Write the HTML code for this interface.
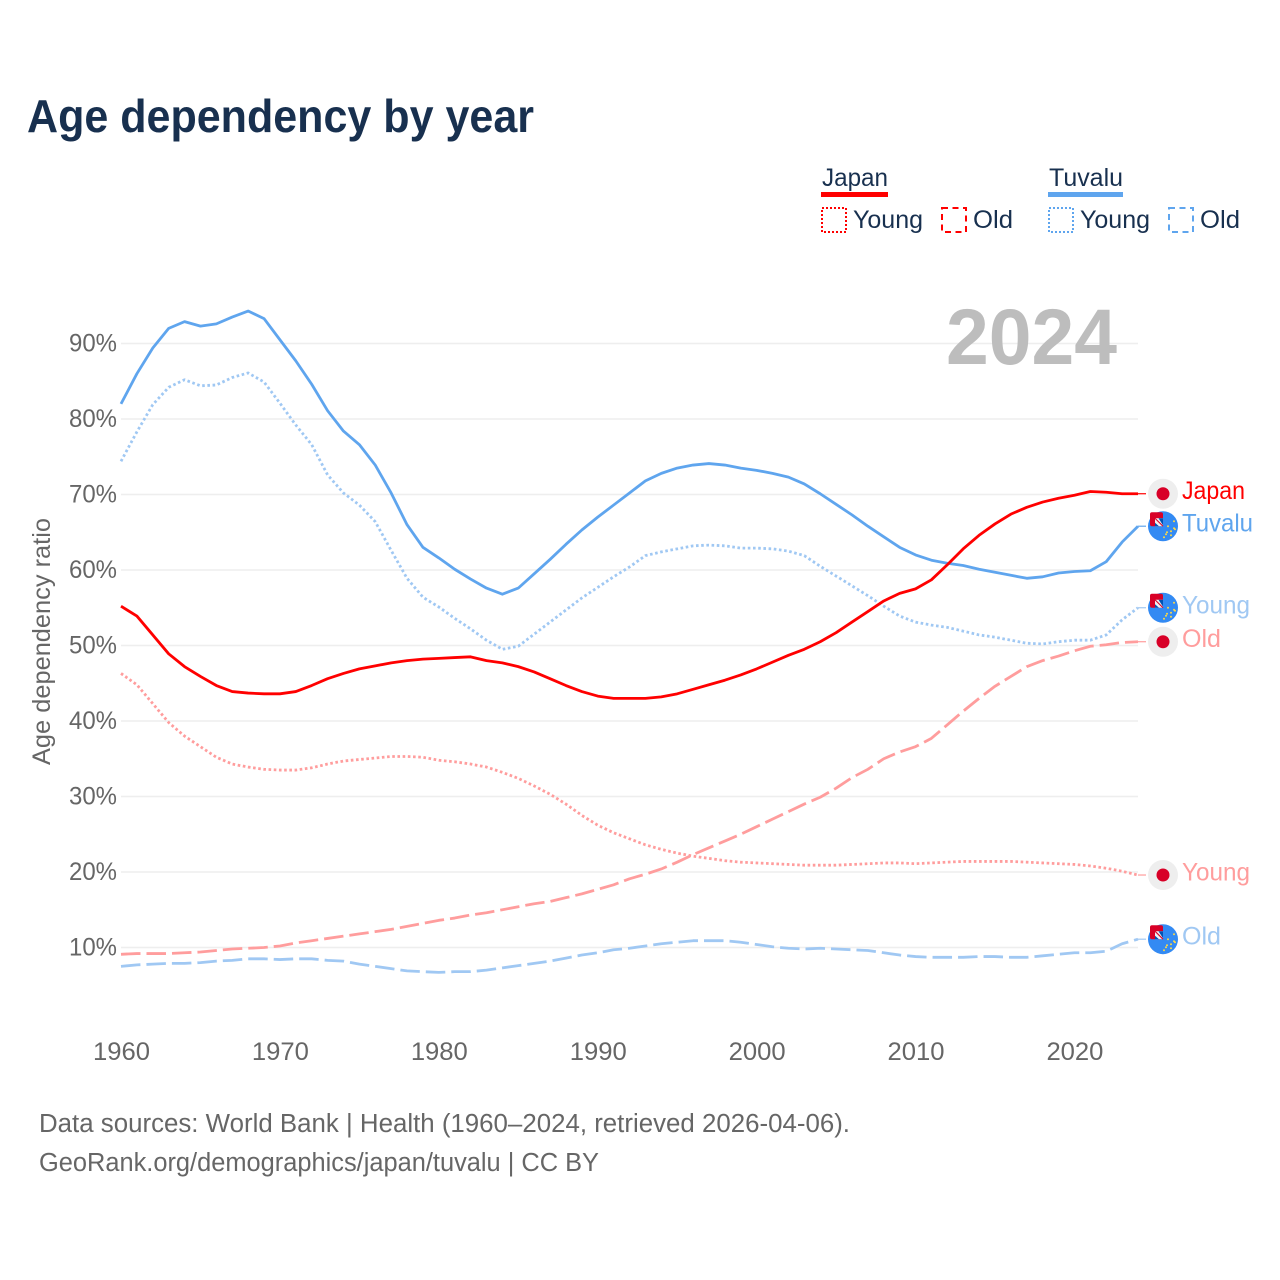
<!DOCTYPE html>
<html lang="en">
<head>
<meta charset="utf-8">
<title>Age dependency by year</title>
<style>
  html, body { margin: 0; padding: 0; background: #fff; }
  svg { display: block; font-family: "Liberation Sans", sans-serif; }
</style>
</head>
<body>
<svg id="chart" xmlns="http://www.w3.org/2000/svg" width="1280" height="1280" viewBox="0 0 1280 1280">
  <defs>
    <clipPath id="flag-clip"><circle cx="0" cy="0" r="15"></circle></clipPath>
    <g id="tuvalu-flag">
      <circle cx="0" cy="0" r="15" fill="#338af3"></circle>
      <rect x="-13" y="-14" width="13" height="14" rx="2" fill="#d80027"></rect>
      <rect x="-8" y="-8" width="8" height="8" fill="#f0f0f0"></rect>
      <path d="M-4.5 -8 L0 -8 L0 -1 Z M-8 -3.5 L-4 0 L-8 0 Z" fill="#0052b4"></path>
      <path d="M-8 -8 L0 0" stroke="#d80027" stroke-width="1.1" fill="none"></path>
      <g fill="#ffda44">
        <circle cx="11" cy="-5" r="1"></circle><circle cx="5" cy="0" r="1"></circle>
        <circle cx="11" cy="2" r="1"></circle><circle cx="8" cy="5" r="1"></circle>
        <circle cx="4" cy="6" r="1"></circle><circle cx="12" cy="3" r="1"></circle>
        <circle cx="1" cy="11" r="1"></circle><circle cx="3" cy="8" r="1"></circle>
        <circle cx="8" cy="9" r="1"></circle>
      </g>
    </g>
    <g id="japan-flag">
      <circle cx="0" cy="0" r="15" fill="#eeeeee"></circle>
      <circle cx="0" cy="0" r="6.5" fill="#d80027"></circle>
    </g>
  </defs>

  <rect x="0" y="0" width="1280" height="1280" fill="#ffffff"></rect>

  <text x="27" y="132" font-size="46" font-weight="700" fill="#18304f" textLength="507" lengthAdjust="spacingAndGlyphs">Age dependency by year</text>

  <g font-size="25" fill="#18304f">
    <text x="822" y="186" textLength="66" lengthAdjust="spacingAndGlyphs">Japan</text>
    <rect x="821" y="192" width="67" height="5" fill="#ff0000"></rect>
    <rect x="822" y="208" width="24" height="24" fill="none" stroke="#ff0000" stroke-width="2" stroke-dasharray="2 2"></rect>
    <text x="853" y="228" textLength="70" lengthAdjust="spacingAndGlyphs">Young</text>
    <rect x="942" y="208" width="24" height="24" fill="none" stroke="#ff0000" stroke-width="2" stroke-dasharray="6 4.5"></rect>
    <text x="973" y="228" textLength="40" lengthAdjust="spacingAndGlyphs">Old</text>

    <text x="1049" y="186" textLength="74" lengthAdjust="spacingAndGlyphs">Tuvalu</text>
    <rect x="1048" y="192" width="75" height="5" fill="#5fa5ee"></rect>
    <rect x="1049" y="208" width="24" height="24" fill="none" stroke="#5fa5ee" stroke-width="2" stroke-dasharray="2 2"></rect>
    <text x="1080" y="228" textLength="70" lengthAdjust="spacingAndGlyphs">Young</text>
    <rect x="1169" y="208" width="24" height="24" fill="none" stroke="#5fa5ee" stroke-width="2" stroke-dasharray="6 4.5"></rect>
    <text x="1200" y="228" textLength="40" lengthAdjust="spacingAndGlyphs">Old</text>
  </g>

  <g id="grid"></g>
  <g id="y-ticks"></g>
  <g id="x-ticks"></g>

  <text transform="translate(50,641.5) rotate(-90)" text-anchor="middle" font-size="25" fill="#666666" textLength="247" lengthAdjust="spacingAndGlyphs">Age dependency ratio</text>

  <text x="946" y="364" font-size="79" font-weight="700" fill="#bdbdbd" textLength="171" lengthAdjust="spacingAndGlyphs">2024</text>

  <g id="series"></g>
  <g id="ends"></g>

  <text x="39" y="1132" font-size="25.5" fill="#666666" textLength="811" lengthAdjust="spacingAndGlyphs">Data sources: World Bank | Health (1960–2024, retrieved 2026-04-06).</text>
  <text x="39" y="1171" font-size="25.5" fill="#666666" textLength="560" lengthAdjust="spacingAndGlyphs">GeoRank.org/demographics/japan/tuvalu | CC BY</text>
</svg>

<script>
var SVG_NS = "http://www.w3.org/2000/svg";

var firstYear = 1960;
var xTickLabels = [1960, 1970, 1980, 1990, 2000, 2010, 2020];
var yTickLabels = [10, 20, 30, 40, 50, 60, 70, 80, 90];

var japanTotal = [55.2,53.9,51.4,48.9,47.2,45.9,44.7,43.9,43.7,43.6,43.6,43.9,44.7,45.6,46.3,46.9,47.3,47.7,48.0,48.2,48.3,48.4,48.5,48.0,47.7,47.2,46.5,45.6,44.7,43.9,43.3,43.0,43.0,43.0,43.2,43.6,44.2,44.8,45.4,46.1,46.9,47.8,48.7,49.5,50.5,51.7,53.1,54.5,55.9,56.9,57.5,58.7,60.7,62.8,64.6,66.1,67.4,68.3,69.0,69.5,69.9,70.4,70.3,70.1,70.1];
var japanYoung = [46.3,44.8,42.3,39.8,38.0,36.6,35.2,34.3,33.9,33.6,33.5,33.5,33.8,34.3,34.7,34.9,35.1,35.3,35.3,35.2,34.8,34.6,34.3,33.9,33.2,32.4,31.4,30.3,29.0,27.5,26.2,25.2,24.4,23.6,23.0,22.5,22.1,21.8,21.5,21.3,21.2,21.1,21.0,20.9,20.9,20.9,21.0,21.1,21.2,21.2,21.1,21.2,21.3,21.4,21.4,21.4,21.4,21.3,21.2,21.1,21.0,20.8,20.5,20.1,19.6];
var japanOld = [9.1,9.2,9.2,9.2,9.3,9.4,9.6,9.8,9.9,10.0,10.2,10.6,10.9,11.2,11.5,11.8,12.1,12.4,12.8,13.2,13.6,13.9,14.3,14.6,15.0,15.4,15.8,16.1,16.6,17.1,17.7,18.3,19.1,19.7,20.4,21.3,22.3,23.2,24.1,25.0,26.0,27.0,28.0,29.0,29.9,31.1,32.5,33.6,35.0,35.9,36.6,37.7,39.5,41.3,43.0,44.6,45.9,47.2,48.0,48.6,49.3,49.9,50.1,50.4,50.5];
var tuvaluTotal = [82.0,86.0,89.4,92.0,92.9,92.3,92.6,93.5,94.3,93.3,90.5,87.7,84.6,81.1,78.4,76.6,73.9,70.2,66.0,63.0,61.6,60.1,58.8,57.6,56.8,57.6,59.5,61.4,63.4,65.3,67.0,68.6,70.2,71.8,72.8,73.5,73.9,74.1,73.9,73.5,73.2,72.8,72.3,71.4,70.1,68.7,67.3,65.8,64.4,63.0,62.0,61.3,60.9,60.6,60.1,59.7,59.3,58.9,59.1,59.6,59.8,59.9,61.1,63.7,65.8];
var tuvaluYoung = [74.4,78.3,81.9,84.2,85.2,84.4,84.5,85.5,86.1,84.9,82.1,79.2,76.6,72.6,70.2,68.6,66.4,62.6,58.9,56.4,55.1,53.6,52.2,50.7,49.5,49.9,51.5,53.1,54.7,56.3,57.7,59.1,60.4,61.9,62.4,62.8,63.2,63.3,63.2,62.9,62.9,62.8,62.5,61.9,60.5,59.2,57.9,56.6,55.2,53.9,53.1,52.7,52.4,51.9,51.4,51.1,50.7,50.3,50.2,50.5,50.7,50.7,51.4,53.4,55.0];
var tuvaluOld = [7.5,7.7,7.8,7.9,7.9,8.0,8.2,8.3,8.5,8.5,8.4,8.5,8.5,8.3,8.2,7.8,7.5,7.2,6.9,6.8,6.7,6.8,6.8,7.0,7.3,7.6,7.9,8.2,8.6,9.0,9.3,9.7,9.9,10.2,10.5,10.7,10.9,10.9,10.9,10.7,10.4,10.1,9.9,9.8,9.9,9.8,9.7,9.6,9.3,9.0,8.8,8.7,8.7,8.7,8.8,8.8,8.7,8.7,8.9,9.1,9.3,9.3,9.5,10.5,11.1];

function xScale(year) { return 121 + (year - 1960) * (1138 - 121) / 64; }
function yScale(pct) { return 1023 - pct * 7.55; }

var gridLayer = document.getElementById("grid");
var yTickLayer = document.getElementById("y-ticks");
var xTickLayer = document.getElementById("x-ticks");
var seriesLayer = document.getElementById("series");
var endLayer = document.getElementById("ends");

function make(tag, attrs, text) {
  var el = document.createElementNS(SVG_NS, tag);
  for (var k in attrs) { el.setAttribute(k, attrs[k]); }
  if (text !== undefined) { el.textContent = text; }
  return el;
}

yTickLabels.forEach(function (t) {
  var line = make("line", { x1: 121, x2: 1138, y1: yScale(t), y2: yScale(t), stroke: "#eeeeee", "stroke-width": 1.5 });
  
  
  gridLayer.appendChild(line);
  var label = make("text", { x: 117, y: yScale(t) + 8, "text-anchor": "end", "font-size": 25, fill: "#666666", textLength: 48, lengthAdjust: "spacingAndGlyphs" }, t + "%");
  
  
  yTickLayer.appendChild(label);
});

xTickLabels.forEach(function (t) {
  var label = make("text", { x: xScale(t) + 0.5, y: 1060, "text-anchor": "middle", "font-size": 25, fill: "#666666", textLength: 57, lengthAdjust: "spacingAndGlyphs" }, String(t));
  
  
  xTickLayer.appendChild(label);
});

function linePath(values) {
  return values.map(function (v, i) {
    return (i ? "L" : "M") + xScale(firstYear + i).toFixed(2) + " " + yScale(v).toFixed(2);
  }).join(" ");
}

var DOT = "2.6 2.6";
var DASH = "19.5 6";

function addSeries(name, values, color, dash, flag, labelText, labelWidth) {
  var attrs = { d: linePath(values), fill: "none", stroke: color, "stroke-width": 2.8, "stroke-linejoin": "round" };
  if (dash) { attrs["stroke-dasharray"] = dash; }
  var path = make("path", attrs);
  
  
  seriesLayer.appendChild(path);

  var lastY = yScale(values[values.length - 1]);

  var connector = make("line", { x1: 1138, x2: 1146, y1: lastY, y2: lastY, stroke: color, "stroke-width": 1.2 });
  
  
  endLayer.appendChild(connector);

  var icon = make("use", { href: "#" + flag, transform: "translate(1163," + lastY.toFixed(2) + ")" });
  
  
  endLayer.appendChild(icon);

  var label = make("text", { x: 1182, y: lastY + 5.5, "font-size": 25, fill: color, textLength: labelWidth, lengthAdjust: "spacingAndGlyphs" }, labelText);
  
  
  endLayer.appendChild(label);
}

addSeries("tuvalu-old", tuvaluOld, "#a0c8f3", DASH, "tuvalu-flag", "Old", 39);
addSeries("japan-old", japanOld, "#ff9d9d", DASH, "japan-flag", "Old", 39);
addSeries("tuvalu-young", tuvaluYoung, "#a0c8f3", DOT, "tuvalu-flag", "Young", 68);
addSeries("japan-young", japanYoung, "#ff9d9d", DOT, "japan-flag", "Young", 68);
addSeries("tuvalu-total", tuvaluTotal, "#5fa5ee", null, "tuvalu-flag", "Tuvalu", 71);
addSeries("japan-total", japanTotal, "#ff0000", null, "japan-flag", "Japan", 63);
</script>
</body>
</html>
